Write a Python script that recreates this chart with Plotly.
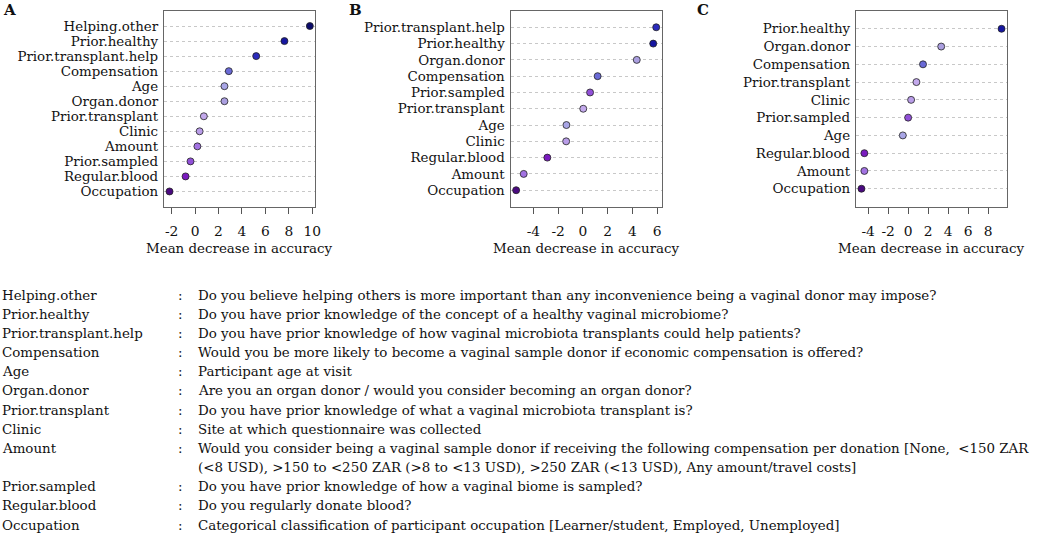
import plotly.graph_objects as go

# ---------------- data ----------------
vars_A = ["Helping.other", "Prior.healthy", "Prior.transplant.help", "Compensation", "Age",
          "Organ.donor", "Prior.transplant", "Clinic", "Amount", "Prior.sampled",
          "Regular.blood", "Occupation"]
vals_A = [9.8, 7.63, 5.22, 2.88, 2.51, 2.51, 0.75, 0.39, 0.2, -0.39, -0.81, -2.18]

vars_B = ["Prior.transplant.help", "Prior.healthy", "Organ.donor", "Compensation",
          "Prior.sampled", "Prior.transplant", "Age", "Clinic", "Regular.blood",
          "Amount", "Occupation"]
vals_B = [5.92, 5.68, 4.35, 1.19, 0.58, 0.03, -1.33, -1.35, -2.87, -4.78, -5.39]

vars_C = ["Prior.healthy", "Organ.donor", "Compensation", "Prior.transplant", "Clinic",
          "Prior.sampled", "Age", "Regular.blood", "Amount", "Occupation"]
vals_C = [9.35, 3.31, 1.49, 0.83, 0.3, 0.0, -0.53, -4.38, -4.38, -4.67]

ticks_A = [-2, 0, 2, 4, 6, 8, 10]
ticks_B = [-4, -2, 0, 2, 4, 6]
ticks_C = [-4, -2, 0, 2, 4, 6, 8]

panel_labels = ["A", "B", "C"]
axis_title = "Mean decrease in accuracy"

legend_vars = ["Helping.other", "Prior.healthy", "Prior.transplant.help", "Compensation",
               "Age", "Organ.donor", "Prior.transplant", "Clinic", "Amount", "",
               "Prior.sampled", "Regular.blood", "Occupation"]
legend_desc = [
    "Do you believe helping others is more important than any inconvenience being a vaginal donor may impose?",
    "Do you have prior knowledge of the concept of a healthy vaginal microbiome?",
    "Do you have prior knowledge of how vaginal microbiota transplants could help patients?",
    "Would you be more likely to become a vaginal sample donor if economic compensation is offered?",
    "Participant age at visit",
    "Are you an organ donor / would you consider becoming an organ donor?",
    "Do you have prior knowledge of what a vaginal microbiota transplant is?",
    "Site at which questionnaire was collected",
    "Would you consider being a vaginal sample donor if receiving the following compensation per donation [None,  &lt;150 ZAR",
    "(&lt;8 USD), &gt;150 to &lt;250 ZAR (&gt;8 to &lt;13 USD), &gt;250 ZAR (&lt;13 USD), Any amount/travel costs]",
    "Do you have prior knowledge of how a vaginal biome is sampled?",
    "Do you regularly donate blood?",
    "Categorical classification of participant occupation [Learner/student, Employed, Unemployed]",
]

# ---------------- style ----------------
colors = {
    "Helping.other": "#0b0b6b",
    "Prior.healthy": "#1616a0",
    "Prior.transplant.help": "#2b2bbd",
    "Compensation": "#6a6ad6",
    "Age": "#a9a6e6",
    "Organ.donor": "#ab9fe0",
    "Prior.transplant": "#c3a9ec",
    "Clinic": "#b99de8",
    "Amount": "#a272e2",
    "Prior.sampled": "#9150d8",
    "Regular.blood": "#7a1bbf",
    "Occupation": "#4a0a80",
}
FONT = "DejaVu Serif"
FS = 13.4
W, H = 1040, 535
x_px = [(164.7, 317.0), (513.0, 665.0), (860.0, 1012.0)]
y_top, y_bot = 11.0, 206.5

fig = go.Figure()
panels = [(vars_A, vals_A, ticks_A), (vars_B, vals_B, ticks_B), (vars_C, vals_C, ticks_C)]

for i, (names, vals, ticks) in enumerate(panels):
    n = len(names)
    ys = [n - k for k in range(n)]
    sfx = "" if i == 0 else str(i + 1)
    fig.add_trace(go.Scatter(
        x=vals, y=ys, mode="markers",
        marker=dict(size=7, color=[colors[v] for v in names],
                    line=dict(color="#222222", width=0.8)),
        xaxis="x" + sfx, yaxis="y" + sfx, showlegend=False, hoverinfo="skip"))
    lo, hi = min(vals), max(vals)
    pad = 0.04 * (hi - lo)
    fig.layout["xaxis" + sfx] = dict(
        domain=[x_px[i][0] / W, x_px[i][1] / W], anchor="y" + sfx,
        range=[lo - pad, hi + pad], tickmode="array", tickvals=ticks,
        ticktext=[str(t) for t in ticks], tickangle=0,
        ticks="outside", ticklen=6, tickcolor="#555555", tickwidth=1,
        showgrid=False, zeroline=False, showline=True, mirror=True,
        linecolor="#666666", linewidth=1.2, ticklabelstandoff=6,
        tickfont=dict(family=FONT, size=FS + 0.4, color="#111111"))
    fig.layout["yaxis" + sfx] = dict(
        domain=[1 - y_bot / H, 1 - y_top / H], anchor="x" + sfx,
        range=[0, n + 1], tickmode="array", tickvals=ys, ticktext=names,
        ticks="", showgrid=True, gridcolor="#c8c8c8", griddash="dot", gridwidth=1,
        zeroline=False, showline=True, mirror=True, linecolor="#666666", linewidth=1.2,
        ticklabelstandoff=2, tickfont=dict(family=FONT, size=FS, color="#111111"))
    fig.add_annotation(x=(x_px[i][0] + x_px[i][1]) / 2 / W, y=1 - 248 / H,
                       xref="paper", yref="paper", text=axis_title, showarrow=False,
                       xanchor="center", yanchor="middle",
                       font=dict(family=FONT, size=FS, color="#111111"))

for lab, px in zip(panel_labels, [1, 349, 698]):
    fig.add_annotation(x=px / W, y=1 - 10 / H, xref="paper", yref="paper",
                       text="<b>" + lab + "</b>", showarrow=False,
                       xanchor="left", yanchor="middle",
                       font=dict(family=FONT, size=15, color="#111111"))

y0, dy = 295.0, 19.17
for k, (v, d) in enumerate(zip(legend_vars, legend_desc)):
    yy = 1 - (y0 + k * dy) / H
    if v:
        fig.add_annotation(x=0 / W, y=yy, xref="paper", yref="paper", text=v,
                           showarrow=False, xanchor="left", yanchor="middle",
                           font=dict(family=FONT, size=FS, color="#111111"))
        fig.add_annotation(x=181 / W, y=yy, xref="paper", yref="paper", text=":",
                           showarrow=False, xanchor="center", yanchor="middle",
                           font=dict(family=FONT, size=FS, color="#111111"))
    fig.add_annotation(x=197 / W, y=yy, xref="paper", yref="paper", text=d,
                       showarrow=False, xanchor="left", yanchor="middle",
                       font=dict(family=FONT, size=FS, color="#111111"))

fig.update_layout(width=W, height=H, margin=dict(l=0, r=0, t=0, b=0),
                  paper_bgcolor="white", plot_bgcolor="white")
fig.write_html("out.html", config={"displayModeBar": False},
               post_script="document.body.style.margin='0';document.body.style.overflow='hidden';")
